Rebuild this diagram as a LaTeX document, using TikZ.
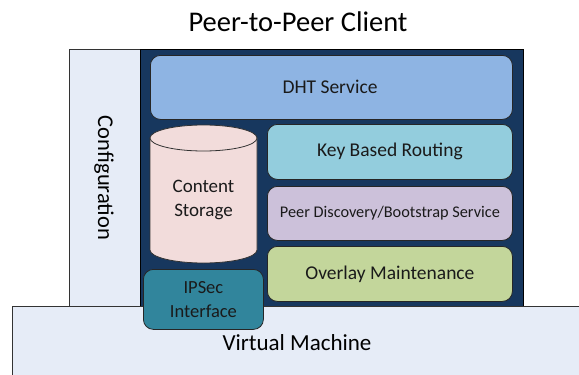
\documentclass[tikz,border=0pt]{standalone}
\usepackage{fontspec}
\setmainfont{Carlito}
\definecolor{panelfill}{HTML}{E6ECF7}
\definecolor{navy}{HTML}{17375E}
\definecolor{dhtfill}{HTML}{8EB4E3}
\definecolor{kbrfill}{HTML}{93CDDD}
\definecolor{pdfill}{HTML}{CCC1DA}
\definecolor{ovfill}{HTML}{C3D69B}
\definecolor{cylfill}{HTML}{F2DCDB}
\definecolor{ipfill}{HTML}{31859C}
\definecolor{txt}{HTML}{1A1A1A}
\begin{document}
\begin{tikzpicture}[x=1pt,y=-1pt,
  panel/.style={draw=black!80,line width=0.8pt,fill=panelfill,anchor=north west,inner sep=0pt},
  layer/.style={draw=black!85,line width=0.8pt,rounded corners=10pt,anchor=north west,inner sep=0pt},
  lbl/.style={text=txt,inner sep=0pt,align=center}]
\useasboundingbox (0,0) rectangle (579,375);
\fill[white] (0,0) rectangle (579,375);
% configuration panel
\node[panel,minimum width=71pt,minimum height=257pt] (config) at (69,49) {};
\node[lbl,rotate=-90,font=\fontsize{22.5}{26}\selectfont,text=black] (configtxt) at (104,178) {Configuration};
% dark client box
\node[draw=black,line width=1.2pt,fill=navy,anchor=north west,inner sep=0pt,minimum width=383pt,minimum height=257pt] (client) at (140,49) {};
% virtual machine
\fill[panelfill] (12,306) rectangle (580,376);
\draw[black!80,line width=0.8pt] (12,376) -- (12,306) -- (580,306);
\node[lbl,font=\fontsize{23}{26}\selectfont,text=black] (vm) at (297,343) {Virtual Machine};
% title
\node[lbl,font=\fontsize{28.5}{32}\selectfont,text=black] (title) at (298,22) {Peer-to-Peer Client};
% layers
\node[layer,fill=dhtfill,minimum width=362pt,minimum height=64pt] (dht) at (150,55) {};
\node[lbl,font=\fontsize{19.5}{22}\selectfont] at (330,87) {DHT Service};
\node[layer,fill=kbrfill,minimum width=245pt,minimum height=55pt] (kbr) at (267,124) {};
\node[lbl,font=\fontsize{19.5}{22}\selectfont] at (kbr.center) {Key Based Routing};
\node[layer,fill=pdfill,minimum width=245pt,minimum height=54pt] (pd) at (267,186) {};
\node[lbl,font=\fontsize{16.3}{19}\selectfont] at (pd.center) {Peer Discovery/Bootstrap Service};
\node[layer,fill=ovfill,minimum width=245pt,minimum height=55pt] (ov) at (267,246) {};
\node[lbl,font=\fontsize{19.5}{22}\selectfont] at (ov.center) {Overlay Maintenance};
% cylinder
\draw[fill=cylfill,draw=black!80,line width=0.8pt] (150,138) -- (150,250) arc[start angle=180,end angle=0,x radius=53.5,y radius=13] -- (257,138) -- cycle;
\draw[fill=cylfill,draw=black!80,line width=0.8pt] (203.5,138) ellipse[x radius=53.5,y radius=13];
\node[lbl,font=\fontsize{19}{24}\selectfont] (cs) at (203.5,200) {Content\\Storage};
% IPSec
\node[layer,fill=ipfill,minimum width=120pt,minimum height=60pt] (ipsec) at (143,269) {};
\node[lbl,font=\fontsize{18.5}{24}\selectfont] at (ipsec.center) {IPSec\\Interface};
\end{tikzpicture}
\end{document}
